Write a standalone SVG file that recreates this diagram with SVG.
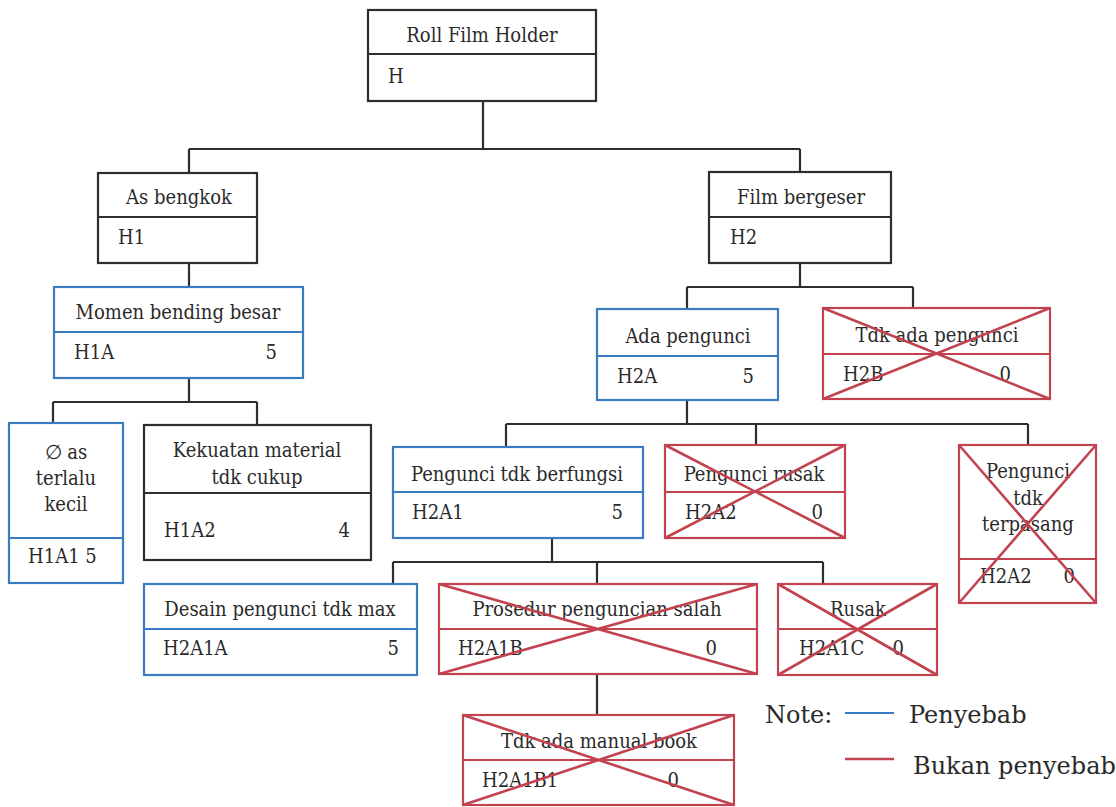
<svg xmlns="http://www.w3.org/2000/svg" width="1116" height="807" viewBox="0 0 1116 807">
<style>
.box{fill:none;stroke-width:2.2}
.k{stroke:#2e2e2e}
.b{stroke:#3a7cc2}
.r{stroke:#c2434f}
.x{stroke:#c2434f;stroke-width:2.6}
.t{font-family:'DejaVu Serif Condensed','DejaVu Serif',serif;font-stretch:condensed;font-size:20px;fill:#2a2a2a}
.m{text-anchor:middle}
.e{text-anchor:end}
.c{fill:none;stroke:#2e2e2e;stroke-width:2.2}
.n{font-family:'DejaVu Serif',serif;font-size:24px;fill:#2a2a2a}
</style>
<rect width="1116" height="807" fill="#ffffff"/>
<g id="connectors">
<path class="c" d="M483 101V149M189 149H800M189 149V173M800 149V172"/>
<path class="c" d="M189 263V287"/>
<path class="c" d="M189 378V402M53 402H257M53 402V423M257 402V425"/>
<path class="c" d="M800 263V287M687 287H913M687 287V309M913 287V308"/>
<path class="c" d="M687 400V424M506 424H1028M506 424V447M756 424V445M1028 424V445"/>
<path class="c" d="M552 538V562M393 562H823M393 562V584M597 562V584M823 562V584"/>
<path class="c" d="M597 674V715"/>
</g>
<g id="H">
<rect class="box k" x="368" y="10" width="228" height="91"/>
<line class="box k" x1="368" y1="54" x2="596" y2="54"/>
<text class="t m" x="482" y="42">Roll Film Holder</text>
<text class="t" x="388" y="83">H</text>
</g>
<g id="H1">
<rect class="box k" x="98" y="173" width="159" height="90"/>
<line class="box k" x1="98" y1="217" x2="257" y2="217"/>
<text class="t m" x="179" y="204">As bengkok</text>
<text class="t" x="118" y="244">H1</text>
</g>
<g id="H2">
<rect class="box k" x="709" y="172" width="182" height="91"/>
<line class="box k" x1="709" y1="217" x2="891" y2="217"/>
<text class="t m" x="801" y="204">Film bergeser</text>
<text class="t" x="730" y="244">H2</text>
</g>
<g id="H1A">
<rect class="box b" x="54" y="287" width="249" height="91"/>
<line class="box b" x1="54" y1="332" x2="303" y2="332"/>
<text class="t m" x="178" y="319">Momen bending besar</text>
<text class="t" x="74" y="359">H1A</text>
<text class="t e" x="277" y="359">5</text>
</g>
<g id="H2A">
<rect class="box b" x="597" y="309" width="181" height="91"/>
<line class="box b" x1="597" y1="356" x2="778" y2="356"/>
<text class="t m" x="688" y="343">Ada pengunci</text>
<text class="t" x="617" y="383">H2A</text>
<text class="t e" x="754" y="383">5</text>
</g>
<g id="H2B">
<rect class="box r" x="823" y="308" width="227" height="91"/>
<line class="box r" x1="823" y1="354" x2="1050" y2="354"/>
<text class="t m" x="937" y="342">Tdk ada pengunci</text>
<text class="t" x="843" y="381">H2B</text>
<text class="t e" x="1011" y="381">0</text>
<path class="x" d="M823 308L1050 399M1050 308L823 399"/>
</g>
<g id="H1A1">
<rect class="box b" x="9" y="423" width="114" height="160"/>
<line class="box b" x1="9" y1="538" x2="123" y2="538"/>
<text class="t m" x="66" y="459">∅ as</text>
<text class="t m" x="66" y="485">terlalu</text>
<text class="t m" x="66" y="511">kecil</text>
<text class="t" x="28" y="563">H1A1 5</text>
</g>
<g id="H1A2">
<rect class="box k" x="144" y="425" width="227" height="135"/>
<line class="box k" x1="144" y1="493" x2="371" y2="493"/>
<text class="t m" x="257" y="457">Kekuatan material</text>
<text class="t m" x="257" y="484">tdk cukup</text>
<text class="t" x="164" y="537">H1A2</text>
<text class="t e" x="350" y="537">4</text>
</g>
<g id="H2A1">
<rect class="box b" x="393" y="447" width="250" height="91"/>
<line class="box b" x1="393" y1="492" x2="643" y2="492"/>
<text class="t m" x="517" y="481">Pengunci tdk berfungsi</text>
<text class="t" x="412" y="519">H2A1</text>
<text class="t e" x="623" y="519">5</text>
</g>
<g id="H2A2">
<rect class="box r" x="665" y="445" width="180" height="93"/>
<line class="box r" x1="665" y1="492" x2="845" y2="492"/>
<text class="t m" x="754" y="481">Pengunci rusak</text>
<text class="t" x="685" y="519">H2A2</text>
<text class="t e" x="823" y="519">0</text>
<path class="x" d="M665 445L845 538M845 445L665 538"/>
</g>
<g id="H2A3">
<rect class="box r" x="959" y="445" width="137" height="158"/>
<line class="box r" x1="959" y1="559" x2="1096" y2="559"/>
<text class="t m" x="1028" y="478">Pengunci</text>
<text class="t m" x="1028" y="505">tdk</text>
<text class="t m" x="1028" y="531">terpasang</text>
<text class="t" x="980" y="583">H2A2</text>
<text class="t e" x="1075" y="583">0</text>
<path class="x" d="M959 445L1096 603M1096 445L959 603"/>
</g>
<g id="H2A1A">
<rect class="box b" x="144" y="584" width="273" height="91"/>
<line class="box b" x1="144" y1="629" x2="417" y2="629"/>
<text class="t m" x="280" y="616">Desain pengunci tdk max</text>
<text class="t" x="163" y="655">H2A1A</text>
<text class="t e" x="399" y="655">5</text>
</g>
<g id="H2A1B">
<rect class="box r" x="439" y="584" width="318" height="90"/>
<line class="box r" x1="439" y1="629" x2="757" y2="629"/>
<text class="t m" x="597" y="616">Prosedur penguncian salah</text>
<text class="t" x="458" y="655">H2A1B</text>
<text class="t e" x="717" y="655">0</text>
<path class="x" d="M439 584L757 674M757 584L439 674"/>
</g>
<g id="H2A1C">
<rect class="box r" x="778" y="584" width="159" height="91"/>
<line class="box r" x1="778" y1="629" x2="937" y2="629"/>
<text class="t m" x="858" y="616">Rusak</text>
<text class="t" x="799" y="655">H2A1C</text>
<text class="t e" x="904" y="655">0</text>
<path class="x" d="M778 584L937 675M937 584L778 675"/>
</g>
<g id="H2A1B1">
<rect class="box r" x="463" y="715" width="271" height="90"/>
<line class="box r" x1="463" y1="760" x2="734" y2="760"/>
<text class="t m" x="599" y="748">Tdk ada manual book</text>
<text class="t" x="482" y="787">H2A1B1</text>
<text class="t e" x="679" y="787">0</text>
<path class="x" d="M463 715L734 805M734 715L463 805"/>
</g>
<g id="legend">
<text class="n" x="765" y="723">Note:</text>
<line x1="845" y1="713" x2="894" y2="713" stroke="#3a7cc2" stroke-width="2.2"/>
<text class="n" x="909" y="723">Penyebab</text>
<line x1="845" y1="759" x2="894" y2="759" stroke="#c2434f" stroke-width="2.6"/>
<text class="n" x="913" y="774">Bukan penyebab</text>
</g>
</svg>
